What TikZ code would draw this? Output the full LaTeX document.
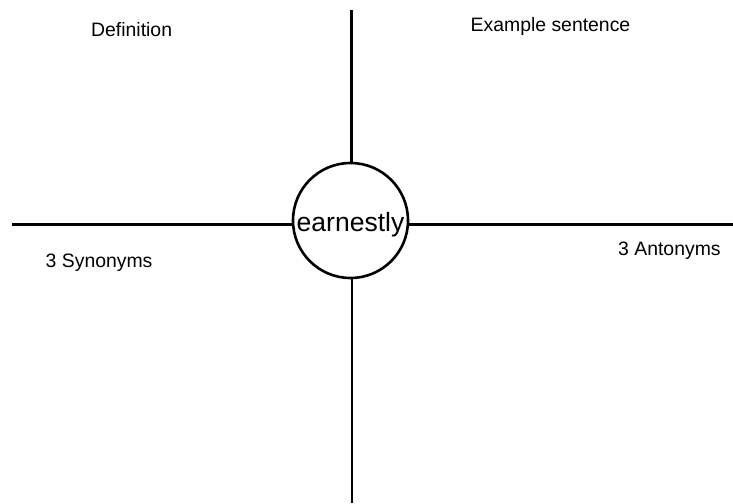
\documentclass[tikz,border=0pt]{standalone}
\usepackage{fontspec}
\setmainfont{Liberation Sans}
\begin{document}
\begin{tikzpicture}[x=1pt,y=-1pt,
  rule/.style={line width=2.7pt},
  lbl/.style={anchor=base west,inner sep=0pt,font=\fontsize{19.4}{22}\selectfont},
  hub/.style={circle,draw,line width=2.6pt,minimum size=115pt,inner sep=0pt,
    text height=21pt,text depth=0pt,font=\fontsize{26.5}{30}\selectfont}]
\useasboundingbox (0,0) rectangle (733,503);
\node[hub] (c) at (350.5,220.5) {earnestly};
\coordinate (T) at (351.7,10);
\coordinate (B) at (352,503);
\coordinate (L) at (12,224.5);
\coordinate (R) at (733,224.5);
\draw[rule] (T) -- (T |- c.north);
\draw[rule] (B) -- (B |- c.south);
\draw[rule] (L) -- (L -| c.west);
\draw[rule] (R) -- (R -| c.east);
\node[lbl] (def) at (91,36.5) {Definition};
\node[lbl] (ex) at (470.5,31.5) {Example sentence};
\node[lbl] (syn) at (45.5,267) {3 Synonyms};
\node[lbl] (ant) at (618,255) {3 Antonyms};
\end{tikzpicture}
\end{document}
